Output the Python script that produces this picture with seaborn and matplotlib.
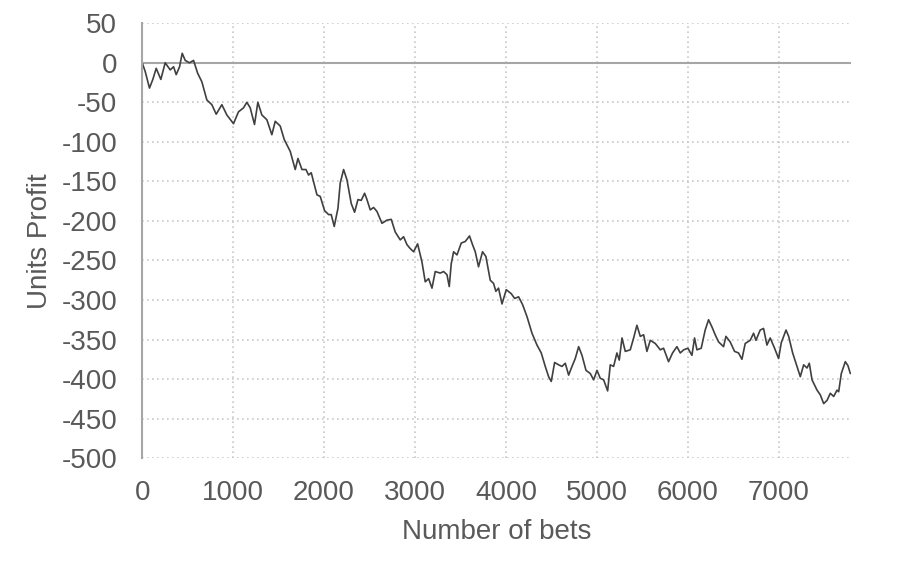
import pandas as pd
import numpy as np
import seaborn as sns
import matplotlib.pyplot as plt

# values
bets = [0, 33, 80, 117, 154, 205, 253, 308, 345, 374, 411, 440, 473, 520, 565, 609, 656, 711,
        766, 814, 876, 931, 1004, 1059, 1114, 1151, 1188, 1235, 1272, 1316, 1371, 1426, 1463,
        1518, 1562, 1628, 1683, 1713, 1757, 1801, 1830, 1859, 1922, 1958, 2006, 2050, 2079,
        2112, 2153, 2178, 2215, 2252, 2299, 2336, 2373, 2409, 2446, 2472, 2508, 2545, 2582,
        2637, 2692, 2739, 2783, 2838, 2875, 2912, 2948, 2985, 3029, 3077, 3113, 3150, 3187,
        3223, 3278, 3315, 3352, 3377, 3399, 3425, 3462, 3509, 3553, 3600, 3633, 3663, 3699,
        3743, 3780, 3828, 3864, 3890, 3919, 3957, 4004, 4059, 4096, 4140, 4184, 4232, 4287,
        4342, 4389, 4433, 4470, 4499, 4536, 4580, 4617, 4653, 4690, 4727, 4763, 4800, 4837,
        4881, 4928, 4965, 5002, 5038, 5075, 5119, 5148, 5185, 5221, 5247, 5277, 5313, 5368,
        5405, 5441, 5478, 5515, 5551, 5588, 5643, 5698, 5734, 5789, 5833, 5881, 5918, 5955,
        6002, 6046, 6075, 6101, 6148, 6192, 6229, 6266, 6302, 6339, 6394, 6420, 6467, 6515,
        6559, 6596, 6632, 6687, 6724, 6750, 6797, 6834, 6871, 6907, 6955, 6999, 7029, 7081,
        7110, 7154, 7202, 7238, 7275, 7312, 7337, 7367, 7422, 7458, 7495, 7532, 7568, 7605,
        7642, 7660, 7689, 7733, 7762, 7788]
profit = [0, -11, -32, -21, -7, -21, 0, -9, -5, -15, -5, 12, 3, 0, 3, -13, -24, -47,
          -53, -65, -53, -66, -77, -62, -57, -50, -57, -78, -50, -66, -72, -91, -74,
          -80, -97, -112, -135, -121, -135, -135, -142, -139, -167, -169, -187, -192, -192,
          -207, -184, -152, -135, -148, -178, -189, -173, -174, -165, -173, -186, -183, -188,
          -203, -199, -198, -214, -224, -220, -230, -235, -239, -229, -252, -277, -273, -285,
          -264, -266, -264, -268, -283, -254, -239, -243, -228, -226, -219, -230, -239, -258,
          -239, -245, -275, -279, -289, -285, -305, -287, -292, -298, -296, -306, -321, -342,
          -357, -367, -384, -397, -403, -379, -382, -384, -380, -395, -384, -374, -359, -370,
          -389, -393, -401, -389, -399, -401, -415, -382, -384, -367, -376, -348, -365, -363,
          -348, -332, -346, -344, -365, -351, -355, -363, -361, -378, -367, -359, -367, -363,
          -361, -370, -348, -363, -361, -338, -325, -334, -344, -353, -359, -346, -353, -365,
          -367, -375, -355, -351, -342, -351, -338, -336, -357, -348, -361, -374, -354, -338,
          -346, -367, -384, -397, -382, -386, -380, -401, -414, -420, -431, -427, -418, -422,
          -414, -416, -393, -378, -383, -393]

df = pd.DataFrame({'bets': bets, 'profit': profit})

sns.set_style("white")
plt.rcParams['font.family'] = ['Liberation Sans', 'DejaVu Sans']
plt.rcParams['axes.unicode_minus'] = False

grey = '#595959'
fig, ax = plt.subplots(figsize=(9, 5.67), dpi=100)
fig.subplots_adjust(left=0.158, right=0.946, top=0.959, bottom=0.192)

sns.lineplot(data=df, x='bets', y='profit', color='#404040', linewidth=1.2, ax=ax)

ax.set_xlim(0, 7800)
ax.set_ylim(-500, 50)
ax.set_xticks(range(0, 8000, 1000))
ax.set_yticks(range(-500, 51, 50))
ax.grid(True, color='#c8c8c8', linestyle=(0, (1, 2)), linewidth=1.2)
ax.axhline(0, color='#a6a6a6', linewidth=1.5, zorder=1)

for s in ['top', 'right', 'bottom']:
    ax.spines[s].set_visible(False)
ax.spines['left'].set_color('#a6a6a6')
ax.spines['left'].set_linewidth(1.5)

ax.tick_params(axis='both', length=0, labelsize=20, colors=grey)
ax.tick_params(axis='y', pad=18)
ax.tick_params(axis='x', pad=16)

ax.set_xlabel('Number of bets', fontsize=20, color=grey, labelpad=9)
ax.set_ylabel('Units Profit', fontsize=20, color=grey, labelpad=6)

plt.savefig('out.png', dpi=100)
